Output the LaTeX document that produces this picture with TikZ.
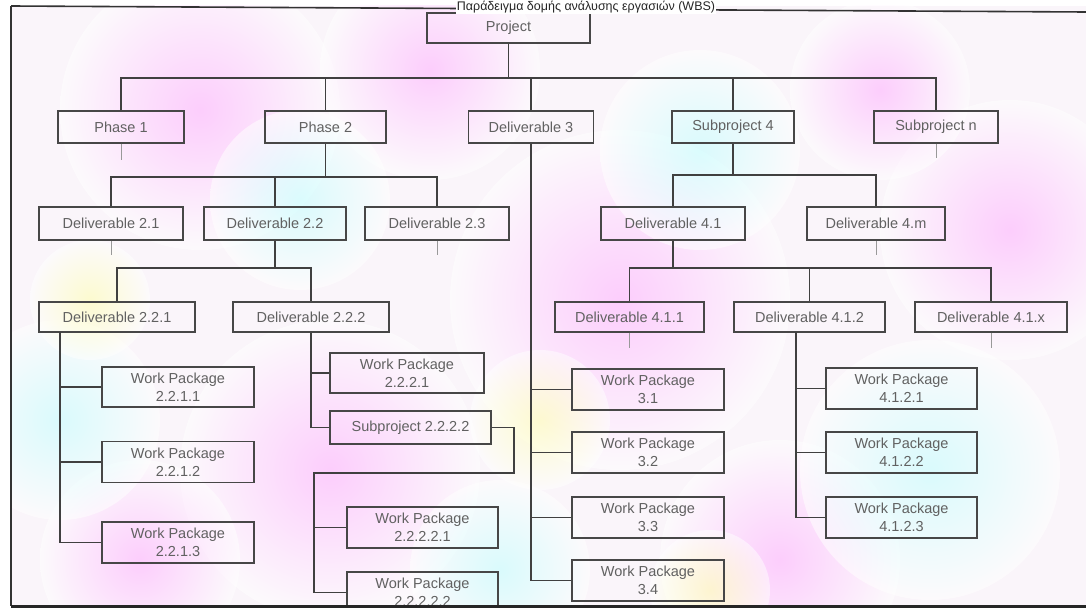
\documentclass[tikz,border=0pt]{standalone}
\usepackage{fontspec}
\setmainfont{Liberation Sans}
\begin{document}
\begin{tikzpicture}[x=1pt,y=-1pt,
  conn/.style={draw=black!75, line width=1.3pt},
  stub/.style={draw=black!40, line width=1pt},
  box/.style={draw=black!72, line width=1.4pt, inner sep=0pt, align=center,
    font=\fontsize{14.5}{18}\selectfont, text=black!62},
  blobp/.style={inner color=magenta!32, outer color=white, opacity=0.55},
  blobc/.style={inner color=cyan!25, outer color=white, opacity=0.55},
  bloby/.style={inner color=yellow!35, outer color=white, opacity=0.5}]
\useasboundingbox (0,0) rectangle (1086,610);
\fill[white] (0,0) rectangle (1086,610);
% pastel scan background
\begin{scope}
\clip (11,6) rectangle (1086,606);
\fill[violet!4] (11,6) rectangle (1086,606);
\shade[blobp] (200,110) circle[radius=140pt];
\shade[blobp] (430,70) circle[radius=110pt];
\shade[blobp] (620,300) circle[radius=170pt];
\shade[blobp] (330,470) circle[radius=150pt];
\shade[blobp] (780,560) circle[radius=120pt];
\shade[blobp] (1010,230) circle[radius=130pt];
\shade[blobp] (140,560) circle[radius=100pt];
\shade[blobp] (880,90) circle[radius=90pt];
\shade[blobc] (60,420) circle[radius=100pt];
\shade[blobc] (500,570) circle[radius=90pt];
\shade[blobc] (930,470) circle[radius=130pt];
\shade[blobc] (300,200) circle[radius=90pt];
\shade[blobc] (700,150) circle[radius=100pt];
\shade[bloby] (540,420) circle[radius=70pt];
\shade[bloby] (710,590) circle[radius=60pt];
\shade[bloby] (90,300) circle[radius=60pt];
\end{scope}
\begin{scope}
\clip (0,0) rectangle (1086,605);
% level 0
\node[box, minimum width=163pt, minimum height=30pt] (Proj) at (508.5,28) {Project};
% level 1
\node[box, minimum width=126pt, minimum height=32pt] (P1) at (121,127) {Phase 1};
\node[box, minimum width=121pt, minimum height=32pt] (P2) at (325.5,127) {Phase 2};
\node[box, minimum width=125pt, minimum height=32pt] (D3) at (531,127) {Deliverable 3};
\node[box, minimum width=122pt, minimum height=32pt] (S4) at (733,127) {Subproject 4};
\node[box, minimum width=124pt, minimum height=32pt] (Sn) at (936,127) {Subproject n};
% level 2
\node[box, minimum width=144pt, minimum height=33pt] (D21) at (111,223.5) {Deliverable 2.1};
\node[box, minimum width=142pt, minimum height=33pt] (D22) at (275,223.5) {Deliverable 2.2};
\node[box, minimum width=144pt, minimum height=33pt] (D23) at (437,223.5) {Deliverable 2.3};
\node[box, minimum width=144pt, minimum height=33pt] (D41) at (673,223.5) {Deliverable 4.1};
\node[box, minimum width=138pt, minimum height=33pt] (D4m) at (876,223.5) {Deliverable 4.m};
% level 3
\node[box, minimum width=156pt, minimum height=30pt] (D221) at (117,317) {Deliverable 2.2.1};
\node[box, minimum width=156pt, minimum height=30pt] (D222) at (311,317) {Deliverable 2.2.2};
\node[box, minimum width=149pt, minimum height=30pt] (D411) at (629.5,317) {Deliverable 4.1.1};
\node[box, minimum width=151pt, minimum height=30pt] (D412) at (809.5,317) {Deliverable 4.1.2};
\node[box, minimum width=152pt, minimum height=30pt] (D41x) at (991,317) {Deliverable 4.1.x};
% work packages
\node[box, minimum width=152pt, minimum height=40pt] (W2211) at (178,387) {Work Package\\2.2.1.1};
\node[box, minimum width=152pt, minimum height=41pt] (W2212) at (178,462) {Work Package\\2.2.1.2};
\node[box, minimum width=152pt, minimum height=41pt] (W2213) at (178,542.5) {Work Package\\2.2.1.3};
\node[box, minimum width=154pt, minimum height=40pt] (W2221) at (407,373) {Work Package\\2.2.2.1};
\node[box, minimum width=161pt, minimum height=33pt] (S2222) at (410.5,427.5) {Subproject 2.2.2.2};
\node[box, minimum width=151pt, minimum height=41pt] (W22221) at (422.5,527.5) {Work Package\\2.2.2.2.1};
\node[box, minimum width=151pt, minimum height=41pt] (W22222) at (422.5,592.5) {Work Package\\2.2.2.2.2};
\node[box, minimum width=152pt, minimum height=41pt] (W31) at (648,389.5) {Work Package\\3.1};
\node[box, minimum width=152pt, minimum height=41pt] (W32) at (648,452.5) {Work Package\\3.2};
\node[box, minimum width=152pt, minimum height=41pt] (W33) at (648,517.5) {Work Package\\3.3};
\node[box, minimum width=152pt, minimum height=41pt] (W34) at (648,580.5) {Work Package\\3.4};
\node[box, minimum width=151pt, minimum height=41pt] (W4121) at (901.5,388.5) {Work Package\\4.1.2.1};
\node[box, minimum width=151pt, minimum height=41pt] (W4122) at (901.5,452.5) {Work Package\\4.1.2.2};
\node[box, minimum width=151pt, minimum height=41pt] (W4123) at (901.5,517.5) {Work Package\\4.1.2.3};
% bus coordinates
\coordinate (bus0) at (508.5,78);
\coordinate (busP2) at (325.5,177);
\coordinate (busS4) at (733,175);
\coordinate (busD22) at (275,268);
\coordinate (busD41) at (673,268);
\coordinate (d221s) at (60,332);
\coordinate (d412s) at (796,332);
\coordinate (s2a) at (514,473);
\coordinate (s2b) at (314,473);
% connectors level 0 -> 1
\draw[conn] (Proj.south) -- (bus0);
\draw[conn] (P1.north) |- (bus0) -| (Sn.north);
\draw[conn] (P2.north) -- (P2.north |- bus0);
\draw[conn] (D3.north) -- (D3.north |- bus0);
\draw[conn] (S4.north) -- (S4.north |- bus0);
% Phase 2 -> deliverables
\draw[conn] (P2.south) -- (busP2);
\draw[conn] (D21.north) |- (busP2) -| (D23.north);
\draw[conn] (D22.north) -- (D22.north |- busP2);
% Subproject 4 -> deliverables
\draw[conn] (S4.south) -- (busS4);
\draw[conn] (D41.north) |- (busS4) -| (D4m.north);
% Deliverable 2.2 -> 2.2.x
\draw[conn] (D22.south) -- (busD22);
\draw[conn] (D221.north) |- (busD22) -| (D222.north);
% Deliverable 4.1 -> 4.1.x
\draw[conn] (D41.south) -- (busD41);
\draw[conn] (D411.north) |- (busD41) -| (D41x.north);
\draw[conn] (D412.north) -- (D412.north |- busD41);
% Deliverable 2.2.1 -> work packages
\draw[conn] (d221s) |- (W2213.west);
\draw[conn] (d221s |- W2211.west) -- (W2211.west);
\draw[conn] (d221s |- W2212.west) -- (W2212.west);
% Deliverable 2.2.2 -> children
\draw[conn] (D222.south) |- (S2222.west);
\draw[conn] (D222.south |- W2221.west) -- (W2221.west);
\draw[conn] (S2222.east) -| (s2a) -- (s2b) |- (W22222.west);
\draw[conn] (s2b |- W22221.west) -- (W22221.west);
% Deliverable 3 -> work packages
\draw[conn] (D3.south) |- (W34.west);
\draw[conn] (D3.south |- W31.west) -- (W31.west);
\draw[conn] (D3.south |- W32.west) -- (W32.west);
\draw[conn] (D3.south |- W33.west) -- (W33.west);
% Deliverable 4.1.2 -> work packages
\draw[conn] (d412s) |- (W4123.west);
\draw[conn] (d412s |- W4121.west) -- (W4121.west);
\draw[conn] (d412s |- W4122.west) -- (W4122.west);
% faint stubs
\draw[stub] (P1.south) -- ++(0,16);
\draw[stub] (Sn.south) -- ++(0,14);
\draw[stub] (D21.south) -- ++(0,14);
\draw[stub] (D23.south) -- ++(0,14);
\draw[stub] (D4m.south) -- ++(0,14);
\draw[stub] (D411.south) -- ++(0,15);
\draw[stub] (D41x.south) -- ++(0,15);
\end{scope}
% scan frame
\coordinate (fTL) at (11,6);
\coordinate (fTR) at (1086,12);
\coordinate (fBL) at (11,606);
\coordinate (fBR) at (1086,606);
\draw[black!80, line width=1.6pt] (fTL) -- (fTR);
\draw[black!80, line width=2pt] (fTL) -- (fBL);
\draw[black!85, line width=3pt] (fBL) -- (fBR);
% title on the top edge of the frame
\node[anchor=base, inner sep=1pt, fill=white, font=\fontsize{12.5}{12.5}\selectfont, text=black!85] (title) at (586,10.5) {Παράδειγμα δομής ανάλυσης εργασιών (WBS)};
\end{tikzpicture}
\end{document}
